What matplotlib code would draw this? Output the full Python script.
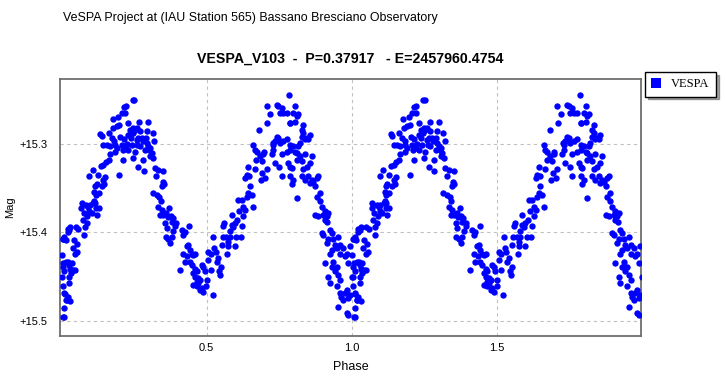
#!/usr/bin/env python

import matplotlib
matplotlib.use("Agg")
import matplotlib.pyplot as plt
from matplotlib.lines import Line2D
from matplotlib.ticker import FuncFormatter

# one cycle of the folded light curve (phase 0..1);
# it is drawn twice, at phase and at phase + 1
phase = [
    0.007, 0.015, 0.022, 0.030, 0.001, 0.007, 0.010, 0.002, 0.024, 0.035, 0.030, 0.041, 0.026, 0.026,
    0.012, 0.018, 0.030, 0.010, 0.007, 0.047, 0.055, 0.043, 0.053, 0.039, 0.050, 0.058, 0.047,
    0.070, 0.068, 0.076, 0.073, 0.081, 0.079, 0.087, 0.089, 0.093, 0.098, 0.096, 0.104, 0.110, 0.113,
    0.118, 0.121, 0.085,
    0.096, 0.108, 0.127, 0.121, 0.116, 0.113, 0.118, 0.129, 0.116, 0.144, 0.150, 0.148, 0.139, 0.135, 0.128,
    0.144, 0.153, 0.162, 0.167, 0.139, 0.133, 0.144, 0.156, 0.167, 0.162, 0.173, 0.181, 0.184, 0.190,
    0.179, 0.190, 0.199, 0.176, 0.196, 0.199, 0.184,
    0.207, 0.219, 0.215, 0.222, 0.245, 0.250, 0.230, 0.236, 0.230, 0.207, 0.215, 0.222, 0.211, 0.213,
    0.230, 0.242, 0.248, 0.245, 0.238, 0.225, 0.202,
    0.253, 0.259, 0.268, 0.270, 0.265, 0.259, 0.261, 0.270, 0.253, 0.248, 0.265, 0.282, 0.288, 0.280,
    0.293, 0.299, 0.293, 0.284, 0.299, 0.291, 0.276,
    0.314, 0.319, 0.305, 0.311, 0.316, 0.305, 0.322, 0.326, 0.334, 0.351, 0.345, 0.348, 0.353, 0.314,
    0.328, 0.337, 0.342, 0.334, 0.345, 0.302,
    0.340, 0.351, 0.360, 0.371, 0.376, 0.366, 0.357, 0.362, 0.359, 0.368, 0.374, 0.380, 0.385, 0.391,
    0.394, 0.383, 0.380,
    0.414, 0.420, 0.425, 0.440, 0.408, 0.420, 0.425, 0.431, 0.437, 0.442, 0.448, 0.454, 0.442, 0.448,
    0.433, 0.460,
    0.454, 0.460, 0.465, 0.471, 0.454, 0.465, 0.471, 0.477, 0.483, 0.488, 0.477, 0.483, 0.488, 0.494,
    0.465, 0.460, 0.500, 0.498,
    0.506, 0.506, 0.514, 0.514, 0.520, 0.526, 0.532, 0.534, 0.540, 0.544, 0.546, 0.550, 0.555, 0.552,
    0.557, 0.523,
    0.560, 0.567, 0.575, 0.575, 0.571, 0.580, 0.586, 0.592, 0.597, 0.601, 0.586, 0.597, 0.606, 0.609,
    0.612, 0.580,
    0.620, 0.626, 0.632, 0.637, 0.643, 0.649, 0.655, 0.660, 0.620, 0.626, 0.618, 0.632, 0.637, 0.643,
    0.646, 0.666, 0.670, 0.666, 0.660, 0.672, 0.683, 0.689, 0.692, 0.686, 0.701, 0.706, 0.697, 0.695,
    0.681, 0.709, 0.718, 0.706, 0.724, 0.729, 0.727, 0.735,
    0.741, 0.747, 0.758, 0.752, 0.764, 0.775, 0.784, 0.787, 0.798, 0.804, 0.810, 0.815, 0.804, 0.741,
    0.747, 0.735, 0.729, 0.752, 0.764, 0.775, 0.787, 0.798, 0.787, 0.775, 0.758, 0.804, 0.810, 0.815,
    0.821, 0.827, 0.833, 0.821, 0.810, 0.827, 0.838, 0.838, 0.844, 0.850, 0.855, 0.833, 0.827, 0.781,
    0.793, 0.787, 0.787, 0.798, 0.793, 0.810, 0.833, 0.844, 0.855, 0.861, 0.787, 0.758, 0.750,
    0.827, 0.838, 0.850, 0.855, 0.861, 0.867, 0.873, 0.878, 0.884, 0.890, 0.878, 0.890, 0.896, 0.873,
    0.884, 0.901, 0.907, 0.913, 0.919, 0.907, 0.915, 0.896, 0.901, 0.924, 0.930, 0.919, 0.913, 0.936,
    0.941, 0.930, 0.924, 0.947, 0.953, 0.959, 0.936, 0.930, 0.941, 0.953, 0.947, 0.959, 0.919, 0.924,
    0.907, 0.959, 0.970, 0.947,
    0.959, 0.964, 0.970, 0.976, 0.982, 0.987, 0.993, 0.005, 0.010, 0.016, 0.022, 0.982, 0.987, 0.953,
    0.010, 0.999, 0.005, 0.016, 0.027, 0.033, 0.982, 0.993, 0.005, 0.010, 0.022, 0.027, 0.976, 0.987,
]

mag = [
    15.408, 15.409, 15.400, 15.394, 15.426, 15.435, 15.444, 15.450, 15.433, 15.435, 15.441, 15.443, 15.450, 15.457,
    15.470, 15.476, 15.478, 15.485, 15.495, 15.424, 15.422, 15.409, 15.413, 15.418, 15.394, 15.396, 15.443,
    15.367, 15.373, 15.378, 15.386, 15.394, 15.403, 15.390, 15.382, 15.371, 15.369, 15.376, 15.378, 15.367, 15.365,
    15.373, 15.381, 15.369,
    15.337, 15.330, 15.335, 15.345, 15.348, 15.354, 15.358, 15.372, 15.367, 15.341, 15.338, 15.346, 15.348, 15.325, 15.356,
    15.324, 15.321, 15.318, 15.312, 15.291, 15.289, 15.301, 15.301, 15.303, 15.288, 15.294, 15.297, 15.301, 15.305,
    15.282, 15.280, 15.279, 15.272, 15.270, 15.335, 15.309,
    15.265, 15.265, 15.259, 15.257, 15.251, 15.251, 15.277, 15.284, 15.290, 15.301, 15.295, 15.305, 15.307, 15.318,
    15.307, 15.301, 15.282, 15.288, 15.294, 15.300, 15.292,
    15.284, 15.282, 15.275, 15.286, 15.294, 15.296, 15.301, 15.303, 15.309, 15.316, 15.326, 15.318, 15.307, 15.297,
    15.299, 15.276, 15.286, 15.331, 15.303, 15.294, 15.294,
    15.288, 15.297, 15.305, 15.311, 15.316, 15.314, 15.327, 15.337, 15.330, 15.331, 15.348, 15.343, 15.345, 15.356,
    15.358, 15.360, 15.365, 15.371, 15.375, 15.307,
    15.380, 15.380, 15.378, 15.373, 15.382, 15.383, 15.390, 15.395, 15.405, 15.408, 15.412, 15.405, 15.399, 15.393,
    15.390, 15.384, 15.388,
    15.397, 15.403, 15.400, 15.393, 15.442, 15.424, 15.433, 15.416, 15.414, 15.420, 15.424, 15.426, 15.433, 15.437,
    15.427, 15.424,
    15.446, 15.450, 15.444, 15.452, 15.459, 15.461, 15.457, 15.454, 15.463, 15.467, 15.465, 15.437, 15.439, 15.444,
    15.456, 15.441, 15.454, 15.461,
    15.422, 15.431, 15.425, 15.442, 15.471, 15.418, 15.422, 15.433, 15.429, 15.444, 15.448, 15.439, 15.405, 15.414,
    15.393, 15.405,
    15.390, 15.405, 15.411, 15.416, 15.424, 15.405, 15.392, 15.394, 15.416, 15.405, 15.380, 15.390, 15.386, 15.363,
    15.376, 15.399,
    15.363, 15.371, 15.375, 15.360, 15.356, 15.348, 15.358, 15.371, 15.393, 15.382, 15.405, 15.339, 15.335, 15.326,
    15.337, 15.329, 15.318, 15.307, 15.301, 15.309, 15.314, 15.320, 15.333, 15.341, 15.339, 15.329, 15.309, 15.312,
    15.285, 15.277, 15.267, 15.257, 15.312, 15.307, 15.299, 15.322,
    15.256, 15.258, 15.260, 15.265, 15.265, 15.265, 15.245, 15.277, 15.265, 15.258, 15.269, 15.267, 15.275, 15.292,
    15.294, 15.297, 15.301, 15.299, 15.297, 15.295, 15.301, 15.303, 15.307, 15.309, 15.312, 15.309, 15.311, 15.303,
    15.299, 15.292, 15.288, 15.314, 15.318, 15.320, 15.312, 15.295, 15.294, 15.295, 15.290, 15.279, 15.284, 15.322,
    15.327, 15.326, 15.337, 15.341, 15.346, 15.361, 15.329, 15.326, 15.322, 15.314, 15.277, 15.337, 15.326,
    15.337, 15.341, 15.337, 15.344, 15.341, 15.343, 15.348, 15.339, 15.337, 15.356, 15.360, 15.365, 15.371, 15.380,
    15.382, 15.380, 15.376, 15.382, 15.378, 15.386, 15.388, 15.401, 15.403, 15.397, 15.401, 15.408, 15.412, 15.408,
    15.414, 15.420, 15.424, 15.418, 15.405, 15.414, 15.433, 15.439, 15.444, 15.448, 15.439, 15.454, 15.450, 15.457,
    15.435, 15.425, 15.418, 15.461,
    15.469, 15.473, 15.476, 15.469, 15.465, 15.474, 15.471, 15.461, 15.469, 15.476, 15.473, 15.491, 15.493, 15.484,
    15.495, 15.450, 15.439, 15.433, 15.437, 15.446, 15.424, 15.416, 15.408, 15.405, 15.396, 15.397, 15.427, 15.435,
]

title = "VESPA_V103  -  P=0.37917   - E=2457960.4754"
header = "VeSPA Project at (IAU Station 565) Bassano Bresciano Observatory"

plt.rcParams["font.family"] = ["Liberation Sans", "DejaVu Sans"]

fig = plt.figure(figsize=(7.26, 3.86), dpi=100)
ax = fig.add_axes([60 / 726, 1 - 336 / 386, 581 / 726, 257 / 386])

ax.scatter(phase, mag, s=21, color="#0000ff", linewidths=0, zorder=3)
ax.scatter([p + 1 for p in phase], mag, s=21, color="#0000ff", linewidths=0, zorder=3)

ax.set_xlim(-0.005, 1.995)
ax.set_ylim(15.517, 15.227)
ax.set_xticks([0.5, 1.0, 1.5])
ax.set_yticks([15.3, 15.4, 15.5])
ax.yaxis.set_major_formatter(FuncFormatter(lambda v, _: f"+{v:.1f}"))
ax.tick_params(length=0, labelsize=8, colors="black")
ax.tick_params(axis="x", pad=5)
ax.tick_params(axis="y", pad=9)
ax.grid(True, color="#c0c0c0", linestyle=(0, (3, 3)), linewidth=0.8)
for sp in ax.spines.values():
    sp.set_color("#6e6e6e")
    sp.set_linewidth(1.3)

ax.set_xlabel("Phase", fontsize=9, labelpad=6)
ax.set_ylabel("Mag", fontsize=8, labelpad=3)
ax.set_title(title, fontsize=10.2, fontweight="bold", pad=12)

fig.text(63 / 726, 1 - 18 / 386, header, fontsize=8.9, va="center", ha="left")

handle = Line2D([], [], linestyle="none", marker="s", markersize=7,
                color="#0000ff", markeredgewidth=0)
leg = fig.legend([handle], ["VESPA"], loc="upper left",
                 bbox_to_anchor=(645 / 726, 1 - 72 / 386),
                 prop={"family": "Liberation Serif", "size": 9},
                 frameon=True, fancybox=False, shadow=True, framealpha=1,
                 edgecolor="black", borderpad=0.5, handlelength=0.8,
                 handletextpad=0.8, borderaxespad=0)
leg.get_frame().set_linewidth(1.0)

fig.savefig("out.png", dpi=100)
